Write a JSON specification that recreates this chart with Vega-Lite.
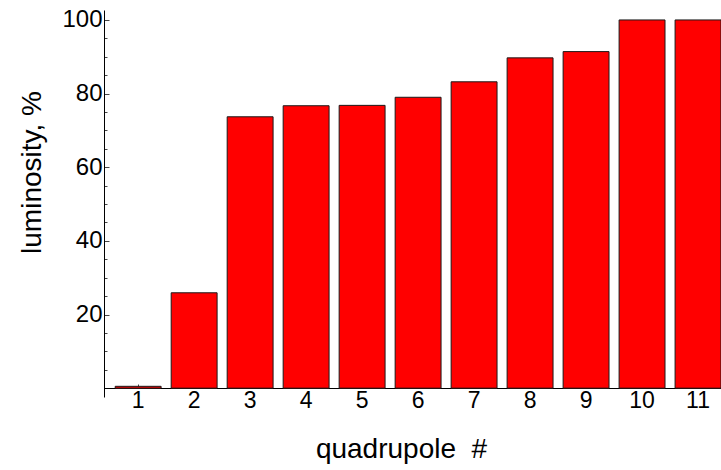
{
  "$schema": "https://vega.github.io/schema/vega-lite/v6.json",
  "width": 617,
  "height": 387,
  "autosize": {"type": "none"},
  "padding": {"left": 104, "top": 10, "right": 0, "bottom": 73},
  "config": {
    "view": {"stroke": null},
    "font": "Liberation Sans",
    "axis": {"labelFont": "Liberation Sans", "titleFont": "Liberation Sans", "labelColor": "#000", "titleColor": "#000", "domainColor": "#000", "tickColor": "#444", "grid": false}
  },
  "data": {
    "values": [
      {"quadrupole": 1, "luminosity": 0.5},
      {"quadrupole": 2, "luminosity": 25.9},
      {"quadrupole": 3, "luminosity": 73.7},
      {"quadrupole": 4, "luminosity": 76.7},
      {"quadrupole": 5, "luminosity": 76.8},
      {"quadrupole": 6, "luminosity": 79.0},
      {"quadrupole": 7, "luminosity": 83.2},
      {"quadrupole": 8, "luminosity": 89.7},
      {"quadrupole": 9, "luminosity": 91.4},
      {"quadrupole": 10, "luminosity": 100},
      {"quadrupole": 11, "luminosity": 100}
    ]
  },
  "mark": {"type": "bar", "color": "#ff0000", "stroke": "#1a1a1a", "strokeWidth": 1},
  "encoding": {
    "x": {
      "field": "quadrupole",
      "type": "ordinal",
      "scale": {"paddingInner": 0.18, "paddingOuter": 0.1, "align": 1},
      "axis": {
        "title": "quadrupole\u00a0 #",
        "titleFontSize": 28,
        "titleFontWeight": "normal",
        "titleBaseline": "alphabetic",
        "titleX": 297,
        "titleY": 69,
        "offset": -9,
        "labelAngle": 0,
        "labelFontSize": 23,
        "labelPadding": 5,
        "tickSize": -4,
        "domainWidth": 1
      }
    },
    "y": {
      "field": "luminosity",
      "type": "quantitative",
      "scale": {"domain": [-2.4, 102.7], "nice": false, "zero": false},
      "axis": {
        "title": "luminosity, %",
        "titleFontSize": 28,
        "titleFontWeight": "normal",
        "titleBaseline": "alphabetic",
        "titleX": -64,
        "titleY": 162,
        "values": [5, 10, 15, 20, 25, 30, 35, 40, 45, 50, 55, 60, 65, 70, 75, 80, 85, 90, 95, 100],
        "labelExpr": "datum.value % 20 === 0 ? datum.label : ''",
        "tickSize": {"condition": {"test": "datum.value % 20 === 0", "value": -5}, "value": -3},
        "labelFontSize": 24,
        "labelPadding": 7,
        "labelBaseline": "middle",
        "domainWidth": 1
      }
    }
  }
}
